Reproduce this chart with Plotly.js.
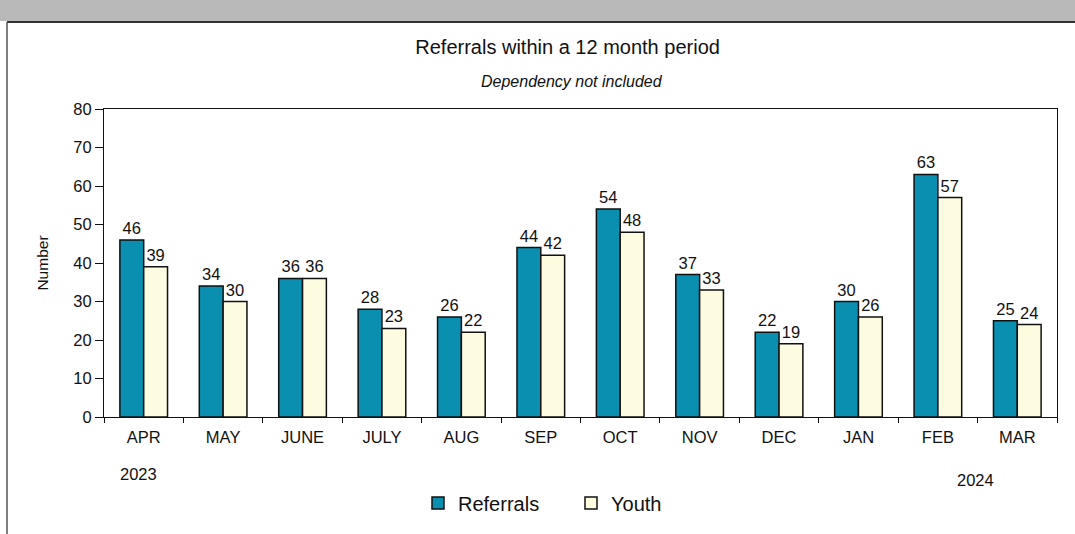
<!DOCTYPE html>
<html>
<head>
<meta charset="utf-8">
<script src="https://cdn.plot.ly/plotly-3.0.1.min.js"></script>
<style>
  html, body { margin: 0; padding: 0; background: #fff; }
  #chart { width: 1075px; height: 534px; }
</style>
</head>
<body>
<div id="chart"></div>
<script>
const months = ['APR', 'MAY', 'JUNE', 'JULY', 'AUG', 'SEP', 'OCT', 'NOV', 'DEC', 'JAN', 'FEB', 'MAR'];
const referrals = [46, 34, 36, 28, 26, 44, 54, 37, 22, 30, 63, 25];
const youth = [39, 30, 36, 23, 22, 42, 48, 33, 19, 26, 57, 24];
const yearLabels = ['2023', '2024'];

const font = 'Liberation Sans, Arial, sans-serif';
const fs = 16.5;

const referralTrace = {
    x: months,
    y: referrals,
    name: 'Referrals',
    type: 'bar',
    text: referrals.map(String),
    textposition: 'outside',
    cliponaxis: false,
    textfont: {size: fs, color: '#111'},
    marker: {color: '#0a8fb0', line: {color: '#111', width: 1.5}}
};

const youthTrace = {
    x: months,
    y: youth,
    name: 'Youth',
    type: 'bar',
    text: youth.map(String),
    textposition: 'outside',
    cliponaxis: false,
    textfont: {size: fs, color: '#111'},
    marker: {color: '#fdfbe0', line: {color: '#111', width: 1.5}}
};

// plot area in pixels: x 104..1057, y 109..417
const px = p => (p - 104) / 953;
const py = p => (417 - p) / 308;

const layout = {
    width: 1075,
    height: 534,
    margin: {l: 104, r: 18, t: 109, b: 117},
    paper_bgcolor: '#fff',
    plot_bgcolor: '#fff',
    font: {family: font, color: '#111', size: fs},
    title: {
        text: 'Referrals within a 12 month period',
        font: {size: 20},
        x: 0.528, xanchor: 'center',
        y: 1 - 47 / 534, yanchor: 'middle'
    },
    barmode: 'group',
    bargap: 0.4,
    bargroupgap: 0,
    showlegend: true,
    legend: {
        orientation: 'h',
        x: px(418), xanchor: 'left',
        y: py(503), yanchor: 'middle',
        font: {size: 20},
        traceorder: 'normal',
        itemwidth: 30,
        entrywidth: 108
    },
    xaxis: {
        type: 'category',
        tickson: 'boundaries',
        ticks: 'outside',
        ticklen: 5,
        tickcolor: '#111',
        showline: true,
        linecolor: '#111',
        linewidth: 1,
        mirror: true,
        showgrid: false,
        tickfont: {size: fs},
        ticklabelstandoff: 5
    },
    yaxis: {
        range: [0, 80],
        dtick: 10,
        ticks: 'outside',
        ticklen: 8,
        tickcolor: '#111',
        showline: true,
        linecolor: '#111',
        linewidth: 1,
        mirror: true,
        showgrid: false,
        zeroline: false,
        tickfont: {size: fs},
        title: {text: 'Number', font: {size: 15.5}, standoff: 20}
    },
    annotations: [
        {text: '<i>Dependency not included</i>', xref: 'paper', x: px(572), xanchor: 'center', yref: 'paper', y: py(81), yanchor: 'middle', showarrow: false, font: {size: 16}},
        {text: yearLabels[0], xref: 'paper', x: px(138), xanchor: 'center', yref: 'paper', y: py(474), yanchor: 'middle', showarrow: false, font: {size: fs}},
        {text: yearLabels[1], xref: 'paper', x: px(975), xanchor: 'center', yref: 'paper', y: py(480), yanchor: 'middle', showarrow: false, font: {size: fs}}
    ],
    shapes: [
        // scanned page band and frame
        {type: 'rect', xref: 'paper', yref: 'paper', x0: px(0), x1: px(1075), y0: py(21), y1: py(0), fillcolor: '#b9b9b9', line: {width: 0}, layer: 'below'},
        {type: 'line', xref: 'paper', yref: 'paper', x0: px(7), x1: px(1075), y0: py(22), y1: py(22), line: {color: '#333', width: 2}},
        {type: 'line', xref: 'paper', yref: 'paper', x0: px(7), x1: px(7), y0: py(22), y1: py(534), line: {color: '#555', width: 1.5}}
    ]
};

Plotly.newPlot('chart', [referralTrace, youthTrace], layout, {displayModeBar: false, staticPlot: true});
</script>
</body>
</html>
